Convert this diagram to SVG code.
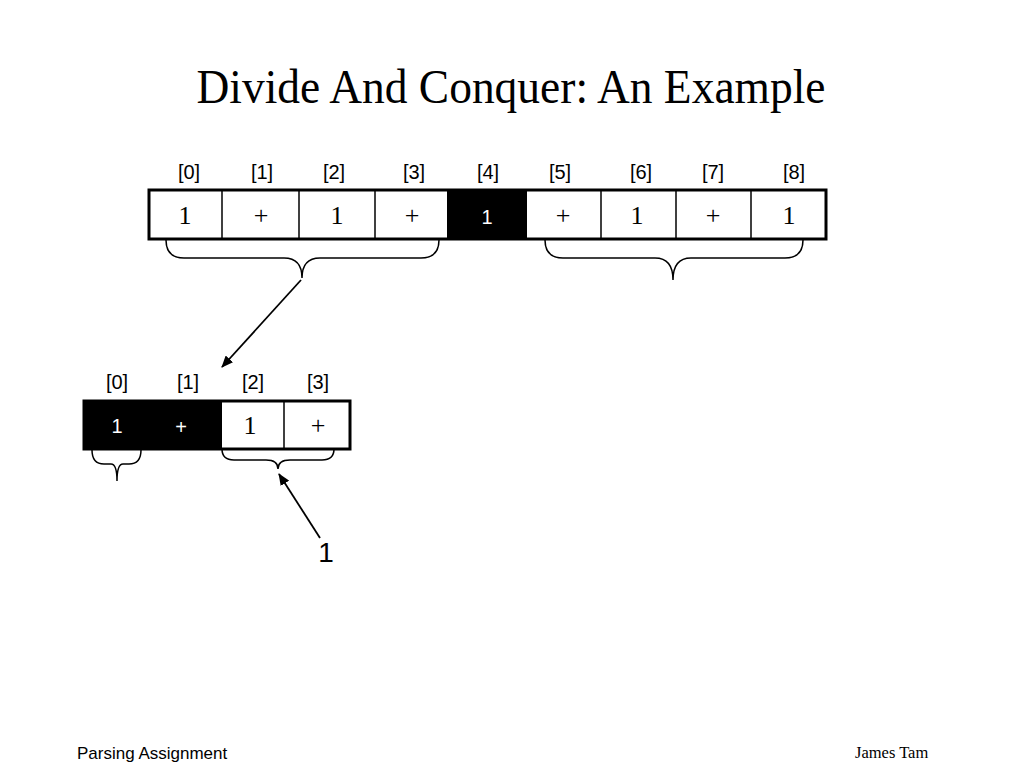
<svg xmlns="http://www.w3.org/2000/svg" width="1024" height="768" viewBox="0 0 1024 768">
<style>
.idx{font-family:"Liberation Sans",Arial,sans-serif;font-size:20px;fill:#000;text-anchor:middle}
.cell{font-family:"Liberation Serif","Times New Roman",serif;font-size:26px;fill:#000;text-anchor:middle}
.wcell{font-family:"Liberation Sans",Arial,sans-serif;font-size:20px;fill:#fff;text-anchor:middle}
.box{fill:none;stroke:#000;stroke-width:3}
.div{stroke:#000;stroke-width:1.5}
.brace{fill:none;stroke:#000;stroke-width:1.5}
.arrow{fill:none;stroke:#000;stroke-width:1.8}
</style>
<defs>
<marker id="ah" viewBox="0 0 12 10" refX="11" refY="5" markerWidth="12" markerHeight="10" markerUnits="userSpaceOnUse" orient="auto">
<path d="M0,0 L12,5 L0,10 Z" fill="#000"/>
</marker>
</defs>
<rect width="1024" height="768" fill="#fff"/>
<text x="511" y="103" font-family="'Liberation Serif','Times New Roman',serif" font-size="49" text-anchor="middle" textLength="629" lengthAdjust="spacingAndGlyphs">Divide And Conquer: An Example</text>

<g id="top-array">
<rect x="447" y="190" width="80" height="49" fill="#000"/>
<rect class="box" x="149" y="190" width="677" height="49"/>
<line class="div" x1="222" y1="190" x2="222" y2="239"/>
<line class="div" x1="299" y1="190" x2="299" y2="239"/>
<line class="div" x1="375" y1="190" x2="375" y2="239"/>
<line class="div" x1="601" y1="190" x2="601" y2="239"/>
<line class="div" x1="676" y1="190" x2="676" y2="239"/>
<line class="div" x1="751" y1="190" x2="751" y2="239"/>
<text class="idx" x="189" y="179">[0]</text>
<text class="idx" x="262" y="179">[1]</text>
<text class="idx" x="334" y="179">[2]</text>
<text class="idx" x="414" y="179">[3]</text>
<text class="idx" x="488" y="179">[4]</text>
<text class="idx" x="560" y="179">[5]</text>
<text class="idx" x="641" y="179">[6]</text>
<text class="idx" x="713" y="179">[7]</text>
<text class="idx" x="794" y="179">[8]</text>
<text class="cell" x="185" y="224">1</text>
<text class="cell" x="261" y="224">+</text>
<text class="cell" x="337" y="224">1</text>
<text class="cell" x="412" y="224">+</text>
<text class="wcell" x="487" y="224">1</text>
<text class="cell" x="563" y="224">+</text>
<text class="cell" x="637" y="224">1</text>
<text class="cell" x="713" y="224">+</text>
<text class="cell" x="789" y="224">1</text>
</g>

<g id="top-left-brace">
<path class="brace" d="M166,240 Q166,258 184,258 L284,258 Q302,258 302,278 Q302,258 320,258 L421,258 Q439,258 439,240"/>
</g>
<g id="top-right-brace">
<path class="brace" d="M545,240 Q545,258 563,258 L655,258 Q673,258 673,280 Q673,258 691,258 L785,258 Q803,258 803,240"/>
</g>

<g id="bottom-array">
<rect x="84" y="401" width="138" height="48" fill="#000"/>
<rect class="box" x="84" y="401" width="266" height="48"/>
<line class="div" x1="284" y1="401" x2="284" y2="449"/>
<text class="idx" x="117" y="389">[0]</text>
<text class="idx" x="188" y="389">[1]</text>
<text class="idx" x="253" y="389">[2]</text>
<text class="idx" x="318" y="389">[3]</text>
<text class="wcell" x="117" y="433" font-size="18">1</text>
<text class="wcell" x="181" y="434" font-size="18">+</text>
<text class="cell" x="250" y="434">1</text>
<text class="cell" x="318" y="434">+</text>
</g>

<g id="small-brace">
<path class="brace" d="M92,450 Q92,464 104,464 L111,464 Q117,464 117,481 Q117,464 123,464 L129,464 Q141,464 141,450"/>
</g>
<g id="bottom-right-brace">
<path class="brace" d="M222,449 Q222,460 234,460 L266,460 Q278,460 278,469 Q278,460 290,460 L322,460 Q334,460 334,449"/>
</g>

<g id="result">
<text x="326" y="562" font-family="'Liberation Sans',Arial,sans-serif" font-size="28" text-anchor="middle">1</text>
</g>

<g id="connectors">
<line class="arrow" x1="301" y1="280" x2="222" y2="367" marker-end="url(#ah)"/>
<line class="arrow" x1="320" y1="538" x2="279" y2="474" marker-end="url(#ah)"/>
</g>

<text x="77" y="759" font-family="'Liberation Sans',Arial,sans-serif" font-size="17">Parsing Assignment</text>
<text x="855" y="758" font-family="'Liberation Serif','Times New Roman',serif" font-size="16.5">James Tam</text>
</svg>
